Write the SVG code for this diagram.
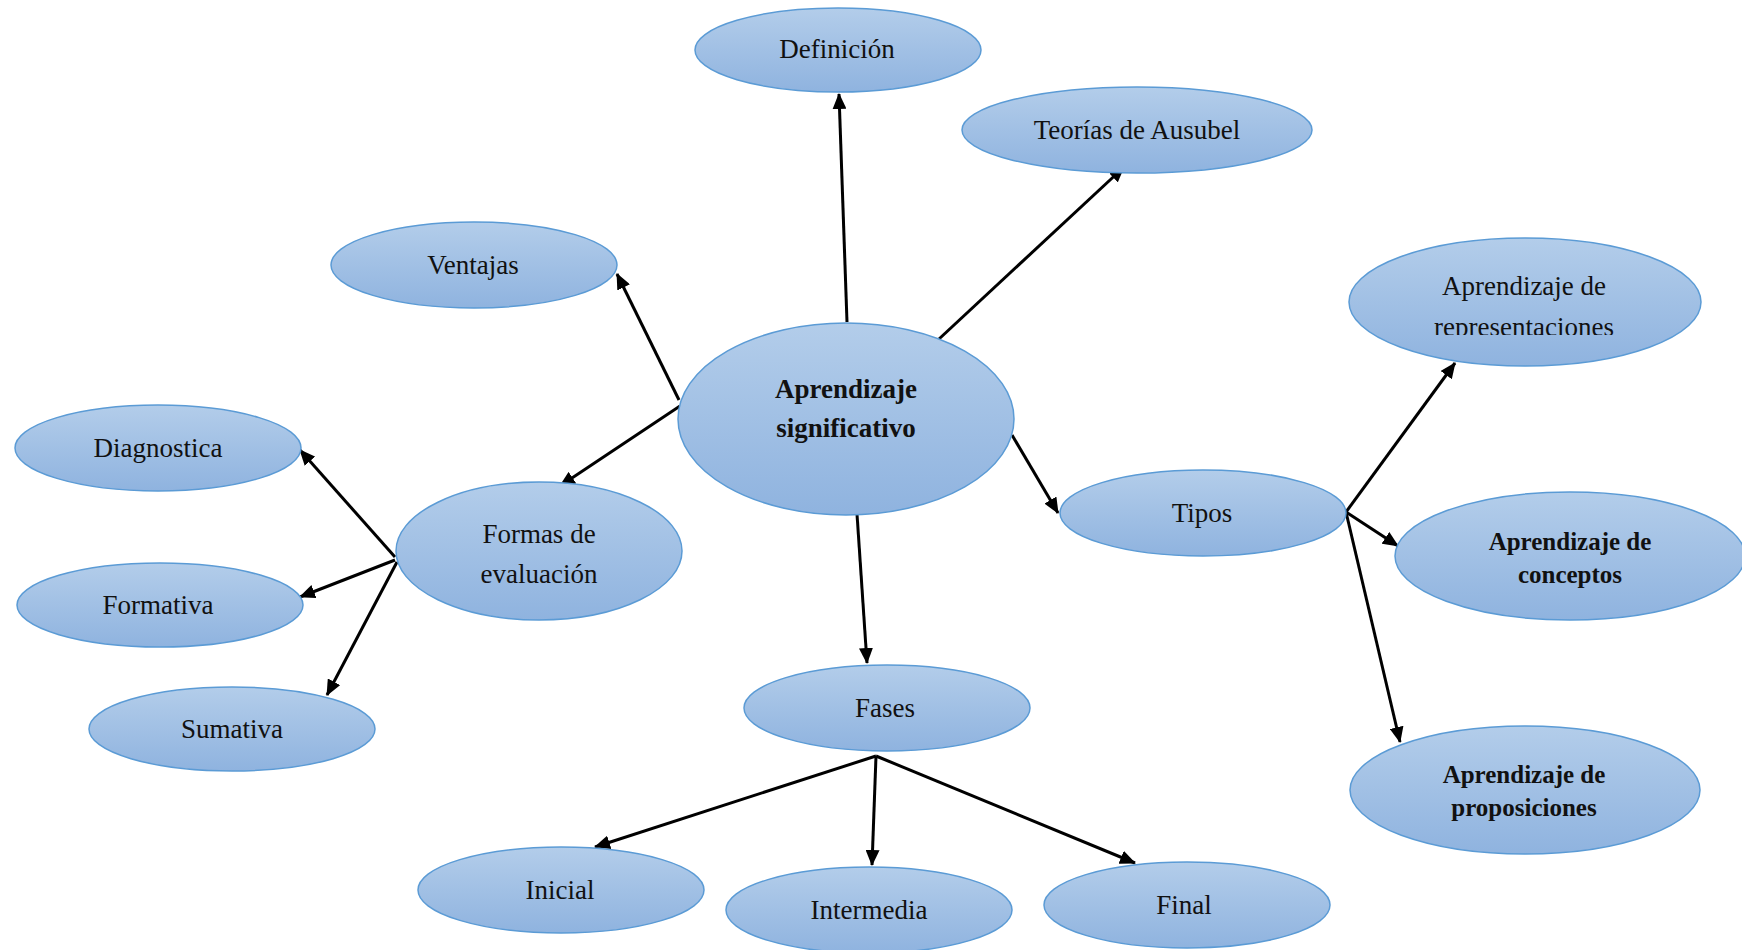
<svg xmlns="http://www.w3.org/2000/svg" width="1742" height="950" viewBox="0 0 1742 950">
<defs>
<linearGradient id="g" x1="0" y1="0" x2="0" y2="1">
<stop offset="0" stop-color="#b3cdea"/>
<stop offset="1" stop-color="#8fb3df"/>
</linearGradient>
<marker id="arr" markerUnits="userSpaceOnUse" markerWidth="16" markerHeight="14" viewBox="0 0 16 14" refX="15" refY="7" orient="auto">
<path d="M0,0 L16,7 L0,14 Z" fill="#000"/>
</marker>
<clipPath id="clipRep"><rect x="1340" y="230" width="370" height="105"/></clipPath>
</defs>
<style>
.n{fill:url(#g);stroke:#5b9bd5;stroke-width:1.5}
.t{font-family:"Liberation Serif","Times New Roman",serif;font-size:27px;fill:#111;text-anchor:middle}
.b{font-weight:bold}
.c{stroke:#000;stroke-width:3;fill:none;marker-end:url(#arr)}
</style>
<rect width="1742" height="950" fill="#fff"/>
<g id="connectors">
<line class="c" x1="847" y1="322" x2="839" y2="94"/>
<line class="c" x1="939" y1="339" x2="1124" y2="167"/>
<line class="c" x1="679" y1="400" x2="617" y2="274"/>
<line class="c" x1="680" y1="406" x2="560" y2="486"/>
<line class="c" x1="1012" y1="435" x2="1058" y2="513"/>
<line class="c" x1="857" y1="514" x2="867" y2="663"/>
<line class="c" x1="1346" y1="512" x2="1455" y2="363"/>
<line class="c" x1="1346" y1="512" x2="1398" y2="546"/>
<line class="c" x1="1346" y1="512" x2="1400" y2="742"/>
<line class="c" x1="395" y1="557" x2="300" y2="450"/>
<line class="c" x1="395" y1="560" x2="300" y2="597"/>
<line class="c" x1="397" y1="562" x2="327" y2="695"/>
<line class="c" x1="876" y1="756" x2="595" y2="847"/>
<line class="c" x1="876" y1="756" x2="872" y2="865"/>
<line class="c" x1="876" y1="756" x2="1135" y2="863"/>
</g>
<g id="n-central"><ellipse class="n" cx="846" cy="419" rx="168" ry="96"/><text class="t b" x="846" y="398">Aprendizaje</text><text class="t b" x="846" y="437">significativo</text></g>
<g id="n-definicion"><ellipse class="n" cx="838" cy="50" rx="143" ry="42"/><text class="t" x="837" y="58">Definición</text></g>
<g id="n-teorias"><ellipse class="n" cx="1137" cy="130" rx="175" ry="43"/><text class="t" x="1137" y="139">Teorías de Ausubel</text></g>
<g id="n-ventajas"><ellipse class="n" cx="474" cy="265" rx="143" ry="43"/><text class="t" x="473" y="274">Ventajas</text></g>
<g id="n-formas"><ellipse class="n" cx="539" cy="551" rx="143" ry="69"/><text class="t" x="539" y="543">Formas de</text><text class="t" x="539" y="583">evaluación</text></g>
<g id="n-diagnostica"><ellipse class="n" cx="158" cy="448" rx="143" ry="43"/><text class="t" x="158" y="457">Diagnostica</text></g>
<g id="n-formativa"><ellipse class="n" cx="160" cy="605" rx="143" ry="42"/><text class="t" x="158" y="614">Formativa</text></g>
<g id="n-sumativa"><ellipse class="n" cx="232" cy="729" rx="143" ry="42"/><text class="t" x="232" y="738">Sumativa</text></g>
<g id="n-tipos"><ellipse class="n" cx="1203" cy="513" rx="143" ry="43"/><text class="t" x="1202" y="522">Tipos</text></g>
<g id="n-representaciones"><ellipse class="n" cx="1525" cy="302" rx="176" ry="64"/><text class="t" x="1524" y="295">Aprendizaje de</text><text class="t" x="1524" y="336" clip-path="url(#clipRep)">representaciones</text></g>
<g id="n-conceptos"><ellipse class="n" cx="1570" cy="556" rx="175" ry="64"/><text class="t b" x="1570" y="550" style="font-size:25px">Aprendizaje de</text><text class="t b" x="1570" y="583" style="font-size:25px">conceptos</text></g>
<g id="n-proposiciones"><ellipse class="n" cx="1525" cy="790" rx="175" ry="64"/><text class="t b" x="1524" y="783" style="font-size:25px">Aprendizaje de</text><text class="t b" x="1524" y="816" style="font-size:25px">proposiciones</text></g>
<g id="n-fases"><ellipse class="n" cx="887" cy="708" rx="143" ry="43"/><text class="t" x="885" y="717">Fases</text></g>
<g id="n-inicial"><ellipse class="n" cx="561" cy="890" rx="143" ry="43"/><text class="t" x="560" y="899">Inicial</text></g>
<g id="n-intermedia"><ellipse class="n" cx="869" cy="910" rx="143" ry="43"/><text class="t" x="869" y="919">Intermedia</text></g>
<g id="n-final"><ellipse class="n" cx="1187" cy="905" rx="143" ry="43"/><text class="t" x="1184" y="914">Final</text></g>
</svg>
